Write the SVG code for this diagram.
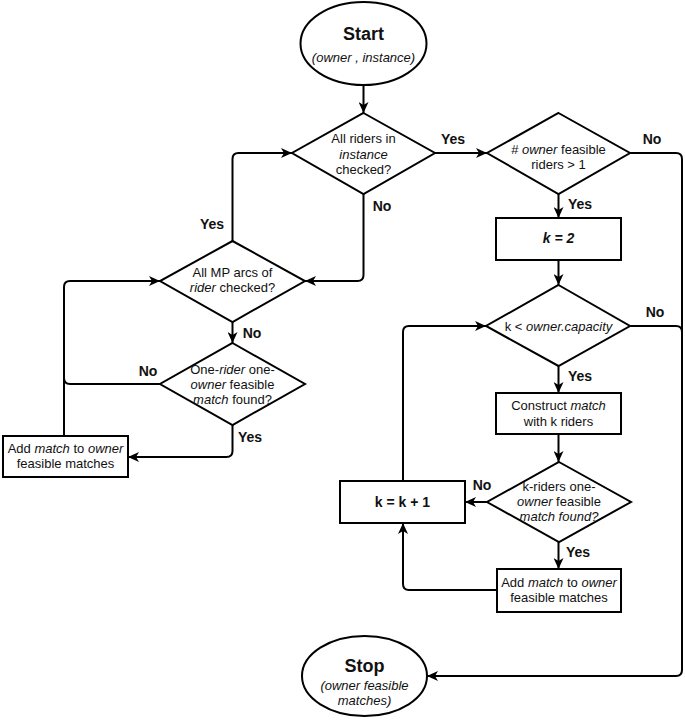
<svg xmlns="http://www.w3.org/2000/svg" width="685" height="720" viewBox="0 0 685 720">
<defs>
<marker id="arr" markerUnits="userSpaceOnUse" markerWidth="12" markerHeight="10" refX="11" refY="5" orient="auto">
<path d="M0,0 L11,5 L0,10 L3,5 Z" fill="#000"/>
</marker>
<style>
.sh{fill:#fff;stroke:#000;stroke-width:2}
.c{fill:none;stroke:#000;stroke-width:2}
.a{marker-end:url(#arr)}
text{font-family:"Liberation Sans",Arial,sans-serif;font-size:13px;fill:#111;text-anchor:middle}
.t{font-size:18px;font-weight:bold}
.b{font-weight:bold;font-size:14px}
.lb{font-weight:bold;font-size:14px;text-anchor:middle}
.i{font-style:italic}
</style>
</defs>
<rect width="685" height="720" fill="#fff"/>
<g id="connectors">
<path class="c a" d="M363.5,85 L363.5,113"/>
<path class="c a" d="M435,153 L487,153"/>
<path class="c a" d="M630,153 L676,153 Q682,153 682,159 L682,670 Q682,676 676,676 L427,676"/>
<path class="c a" d="M558.5,194 L558.5,218"/>
<path class="c a" d="M558.5,260 L558.5,285"/>
<path class="c" d="M630,326 L676,326 Q682,326 682,332 L682,345"/>
<path class="c a" d="M558.5,366 L558.5,393"/>
<path class="c a" d="M558.5,434 L558.5,462"/>
<path class="c a" d="M487,502 L465,502"/>
<path class="c a" d="M558.5,542 L558.5,569"/>
<path class="c a" d="M497,590 L409,590 Q403,590 403,584 L403,523"/>
<path class="c a" d="M403,481 L403,332 Q403,326 409,326 L486,326"/>
<path class="c a" d="M363.5,194 L363.5,275 Q363.5,281 357.5,281 L305,281"/>
<path class="c a" d="M232.5,241 L232.5,159 Q232.5,153 238.5,153 L292,153"/>
<path class="c a" d="M232.5,322 L232.5,343"/>
<path class="c" d="M160,384 L70,384 Q64,384 64,378 L64,384"/>
<path class="c a" d="M64,436 L64,287 Q64,281 70,281 L160,281"/>
<path class="c a" d="M232.5,425 L232.5,451 Q232.5,457 226.5,457 L128,457"/>
<text class="lb" x="453" y="144">Yes</text>
<text class="lb" x="652" y="144">No</text>
<text class="lb" x="580" y="209">Yes</text>
<text class="lb" x="382" y="211">No</text>
<text class="lb" x="655" y="317">No</text>
<text class="lb" x="580" y="381">Yes</text>
<text class="lb" x="482" y="490">No</text>
<text class="lb" x="578" y="557">Yes</text>
<text class="lb" x="212" y="229">Yes</text>
<text class="lb" x="252" y="338">No</text>
<text class="lb" x="148" y="376">No</text>
<text class="lb" x="250" y="442">Yes</text>
</g>
<g id="start">
<ellipse class="sh" cx="363.5" cy="43.5" rx="63" ry="41.5"/>
<text class="t" x="363.5" y="40">Start</text>
<text class="i" x="363.5" y="62">(owner , instance)</text>
</g>
<g id="d1">
<polygon class="sh" points="363.5,113 435,153 363.5,194 292,153"/>
<text x="363.5" y="143">All riders in</text>
<text class="i" x="363.5" y="159">instance</text>
<text x="363.5" y="174">checked?</text>
</g>
<g id="d2">
<polygon class="sh" points="558.5,113 630,153 558.5,194 487,153"/>
<text x="558.5" y="154"># <tspan class="i">owner</tspan> feasible</text>
<text x="558.5" y="169">riders &gt; 1</text>
</g>
<g id="k2">
<rect class="sh" x="496" y="218" width="125" height="42"/>
<text class="b i" x="558.5" y="243">k = 2</text>
</g>
<g id="d3">
<polygon class="sh" points="558.5,285 630,326 558.5,366 486,326"/>
<text x="558.5" y="331">k &lt; <tspan class="i">owner.capacity</tspan></text>
</g>
<g id="construct">
<rect class="sh" x="496" y="393" width="125" height="41"/>
<text x="558.5" y="410">Construct <tspan class="i">match</tspan></text>
<text x="558.5" y="426">with k riders</text>
</g>
<g id="d4">
<polygon class="sh" points="559,462 631,502 559,542 487,502"/>
<text x="559" y="491">k-riders one-</text>
<text x="559" y="506"><tspan class="i">owner</tspan> feasible</text>
<text class="i" x="559" y="521">match found?</text>
</g>
<g id="kinc">
<rect class="sh" x="340" y="481" width="125" height="42"/>
<text class="b" x="402.5" y="507">k = k + 1</text>
</g>
<g id="addR">
<rect class="sh" x="497" y="569" width="124" height="43"/>
<text x="559" y="587">Add <tspan class="i">match</tspan> to <tspan class="i">owner</tspan></text>
<text x="559" y="602">feasible matches</text>
</g>
<g id="stop">
<ellipse class="sh" cx="364.5" cy="676" rx="62.5" ry="40"/>
<text class="t" x="364.5" y="672">Stop</text>
<text class="i" x="364.5" y="690">(owner feasible</text>
<text class="i" x="364.5" y="705">matches)</text>
</g>
<g id="d5">
<polygon class="sh" points="232.5,241 305,281 232.5,322 160,281"/>
<text x="232.5" y="277">All MP arcs of</text>
<text x="232.5" y="292"><tspan class="i">rider</tspan> checked?</text>
</g>
<g id="d6">
<polygon class="sh" points="232.5,343 305,384 232.5,425 160,384"/>
<text x="232.5" y="374">One-<tspan class="i">rider</tspan> one-</text>
<text x="232.5" y="389"><tspan class="i">owner</tspan> feasible</text>
<text x="232.5" y="404"><tspan class="i">match</tspan> found?</text>
</g>
<g id="addL">
<rect class="sh" x="3" y="436" width="125" height="41"/>
<text x="65.5" y="453">Add <tspan class="i">match</tspan> to <tspan class="i">owner</tspan></text>
<text x="65.5" y="468">feasible matches</text>
</g>
</svg>
